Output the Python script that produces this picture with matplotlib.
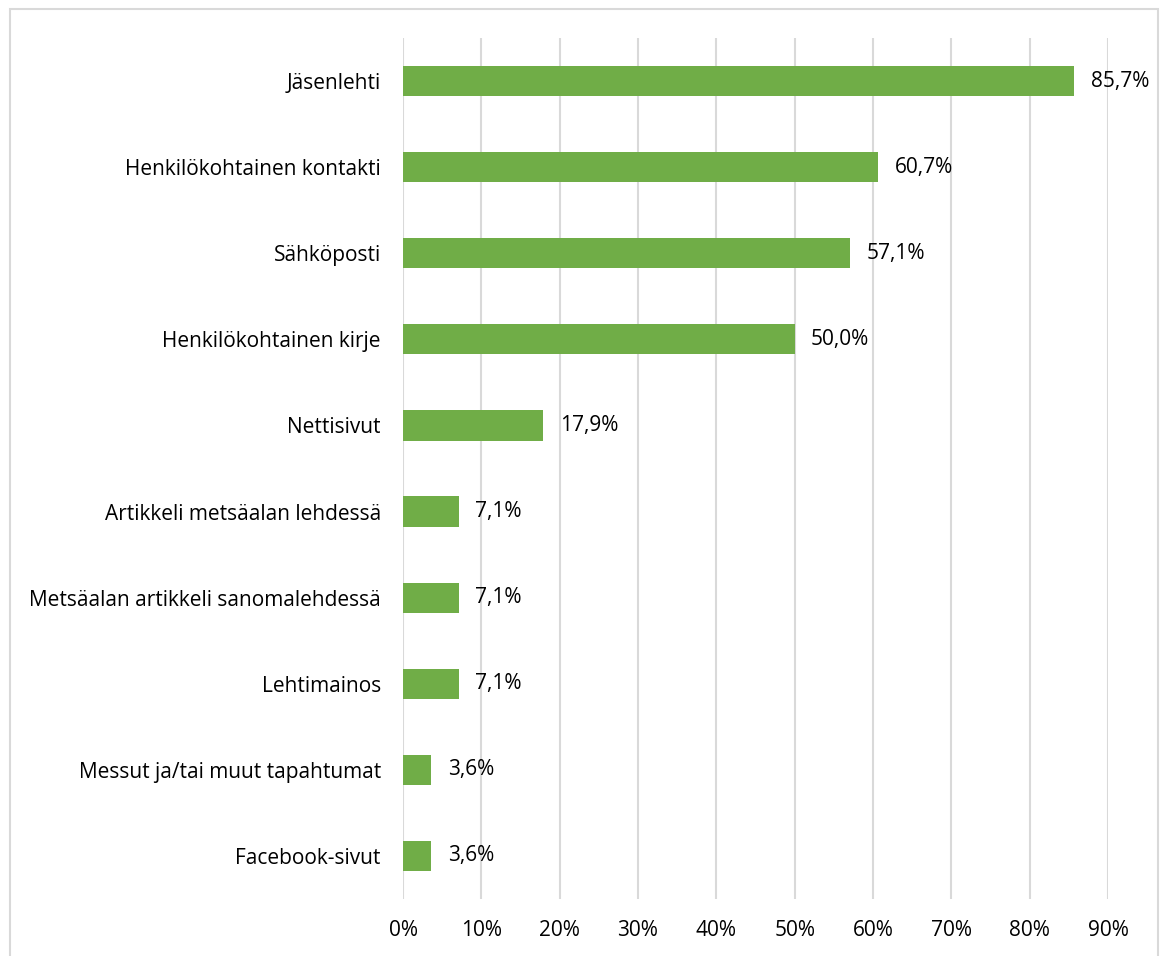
import matplotlib
matplotlib.use("Agg")
import matplotlib.pyplot as plt
from matplotlib.patches import Rectangle

# response shares (%) for each channel, top to bottom
channels = [
    "Jäsenlehti",
    "Henkilökohtainen kontakti",
    "Sähköposti",
    "Henkilökohtainen kirje",
    "Nettisivut",
    "Artikkeli metsäalan lehdessä",
    "Metsäalan artikkeli sanomalehdessä",
    "Lehtimainos",
    "Messut ja/tai muut tapahtumat",
    "Facebook-sivut",
]
shares = [85.7, 60.7, 57.1, 50.0, 17.9, 7.1, 7.1, 7.1, 3.6, 3.6]
x_ticks = [0, 10, 20, 30, 40, 50, 60, 70, 80, 90]

plt.rcParams["font.family"] = ["Open Sans", "DejaVu Sans"]
fs = 15

fig = plt.figure(figsize=(11.65, 9.56), dpi=100)
ax = fig.add_axes([403 / 1165, 57 / 956, 705 / 1165, 861 / 956])

# thin grey frame around the chart
fig.patches.append(Rectangle((10 / 1165, -0.01), 1148 / 1165, 1 - 9 / 956 + 0.01,
                             transform=fig.transFigure, fill=False,
                             edgecolor="#D9D9D9", linewidth=1.5))

pos = list(range(len(channels)))
ax.barh(pos, shares, height=0.35, color="#70AD47", zorder=3)

for p, v in zip(pos, shares):
    ax.text(v + 2.1, p, f"{v:.1f}%".replace(".", ","), va="center", ha="left",
            fontsize=fs, color="#000000")

ax.set_xlim(0, 90)
ax.set_ylim(len(channels) - 0.5, -0.5)
ax.set_xticks(x_ticks)
ax.set_xticklabels([f"{t}%" for t in x_ticks], fontsize=fs)
ax.set_yticks(pos)
ax.set_yticklabels(channels, fontsize=fs)
ax.tick_params(axis="both", length=0, colors="#000000")
ax.tick_params(axis="x", pad=15)
ax.tick_params(axis="y", pad=16)
ax.xaxis.grid(True, color="#D9D9D9", linewidth=1.5, zorder=0)
for s in ax.spines.values():
    s.set_visible(False)

fig.savefig("out.png", dpi=100)
